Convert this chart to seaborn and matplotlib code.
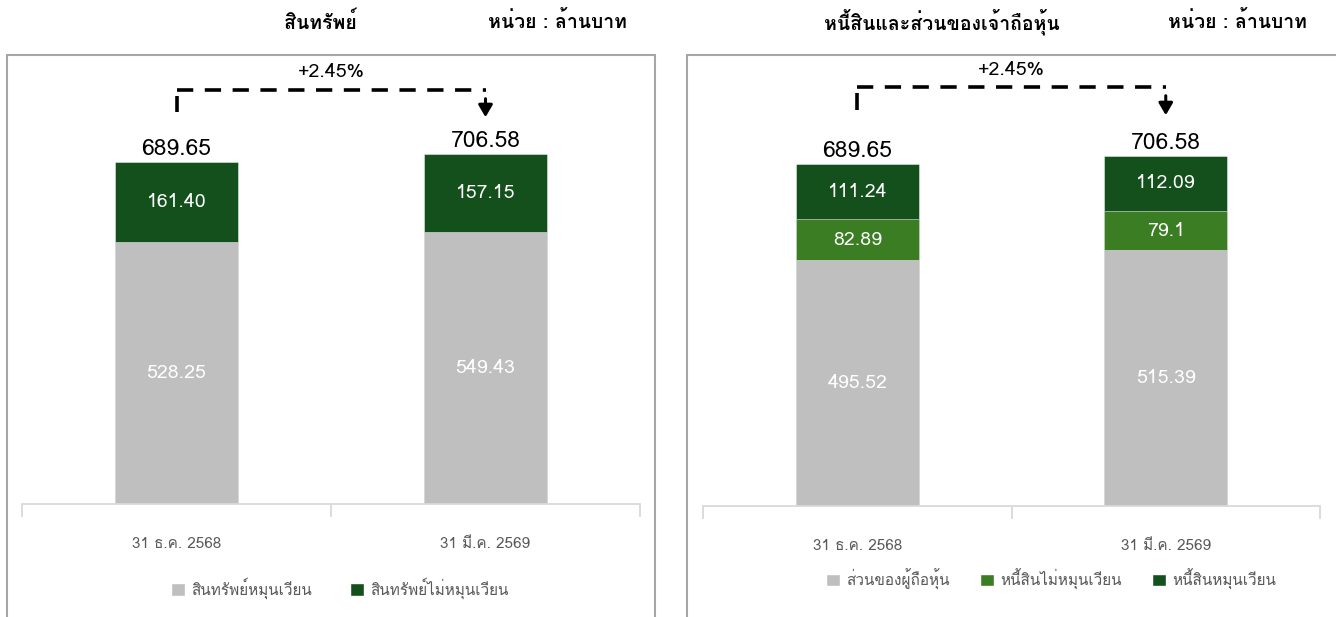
import numpy as np
import pandas as pd
import seaborn as sns
import matplotlib
matplotlib.use("Agg")
import matplotlib.pyplot as plt
from matplotlib import font_manager as fm
from matplotlib.ft2font import FT2Font
from matplotlib.patches import Rectangle, Patch

# ---------------- data ----------------
categories = ["31 ธ.ค. 2568", "31 มี.ค. 2569"]

asset_title = "สินทรัพย์"
liab_title = "หนี้สินและส่วนของเจ้าถือหุ้น"
unit_text = "หน่วย : ล้านบาท"
change_text = "+2.45%"

current_assets = [528.25, 549.43]
noncurrent_assets = [161.40, 157.15]
asset_totals = [689.65, 706.58]
asset_labels = ["สินทรัพย์หมุนเวียน", "สินทรัพย์ไม่หมุนเวียน"]

equity = [495.52, 515.39]
noncurrent_liab = [82.89, 79.10]
current_liab = [111.24, 112.09]
liab_totals = [689.65, 706.58]
liab_labels = ["ส่วนของผู้ถือหุ้น", "หนี้สินไม่หมุนเวียน", "หนี้สินหมุนเวียน"]
equity_fmt = ["495.52", "515.39"]
ncl_fmt = ["82.89", "79.1"]
cl_fmt = ["111.24", "112.09"]

# ---------------- style ----------------
GRAY = "#bfbfbf"
DARK = "#14501c"
MID = "#3a7d23"
TXT = "#595959"

sns.set_theme(style="white")

thai_family = None
for f in fm.fontManager.ttflist:
    try:
        cmap = FT2Font(f.fname).get_charmap()
        if 0x0E2A in cmap and 0x0E49 in cmap and 0x0E1E in cmap:
            thai_family = f.name
            break
    except Exception:
        pass
fams = ([thai_family] if thai_family else []) + ["DejaVu Sans"]
plt.rcParams["font.family"] = fams

W, H = 1336, 617
fig = plt.figure(figsize=(W / 100, H / 100), dpi=100)


def fx(px):
    return px / W


def fy(py):
    return (H - py) / H


# frames
fig.patches.append(Rectangle((fx(7), -0.02), fx(648), fy(55) + 0.02, transform=fig.transFigure,
                             fill=False, edgecolor="#a6a6a6", linewidth=1.5, zorder=0))
fig.patches.append(Rectangle((fx(687), -0.02), fx(660), fy(55) + 0.02, transform=fig.transFigure,
                             fill=False, edgecolor="#a6a6a6", linewidth=1.5, zorder=0))

# titles
fig.text(fx(320), fy(22), asset_title, ha="center", va="center", fontsize=14, fontweight="bold", color="black")
fig.text(fx(557), fy(22), unit_text, ha="center", va="center", fontsize=14, fontweight="bold", color="black")
fig.text(fx(942), fy(22), liab_title, ha="center", va="center", fontsize=14, fontweight="bold", color="black")
fig.text(fx(1237), fy(22), unit_text, ha="center", va="center", fontsize=14, fontweight="bold", color="black")


def setup_axes(ax, ymax):
    ax.set_xlim(-0.5, 1.5)
    ax.set_ylim(0, ymax)
    ax.set_yticks([])
    ax.set_ylabel("")
    ax.set_xlabel("")
    for s in ["top", "left", "right"]:
        ax.spines[s].set_visible(False)
    ax.spines["bottom"].set_color("#d9d9d9")
    ax.spines["bottom"].set_linewidth(1.3)
    ax.set_xticks([0, 1])
    ax.set_xticklabels(categories, color=TXT, fontsize=11)
    ax.set_xticks([-0.5, 0.5, 1.5], minor=True)
    ax.tick_params(axis="x", which="major", length=0, pad=24)
    ax.tick_params(axis="x", which="minor", length=9, width=1.3, color="#d9d9d9", direction="out", bottom=True)
    ax.patch.set_alpha(0)


def connector(ax, totals, y_left_bottom, y_line, y_arrow_tip, y_text):
    ax.plot([0, 0], [y_left_bottom, y_line - 12], color="black", lw=2.6, solid_capstyle="butt")
    ax.plot([0, 1], [y_line, y_line], color="black", lw=2.6, dashes=(4.5, 3.2))
    ax.annotate("", xy=(1, y_arrow_tip), xytext=(1, y_line - 12),
                arrowprops=dict(arrowstyle="-|>,head_width=0.35,head_length=0.6", color="black", lw=2.2))
    ax.text(0.5, y_text, change_text, ha="center", va="center", fontsize=14, fontweight="medium", color="black")
    for i, t in enumerate(totals):
        ax.text(i, t + 4, f"{t:.2f}", ha="center", va="bottom", fontsize=16.5, color="black")


bar_kw = dict(saturation=1, width=0.4, edgecolor="#e8e8e8", linewidth=0.4)

# ---------------- left: assets ----------------
axL = fig.add_axes([fx(22), fy(504), fx(640) - fx(22), fy(60) - fy(504)])
df_a = pd.DataFrame({"cat": categories,
                     "cur": current_assets,
                     "tot": np.array(current_assets) + np.array(noncurrent_assets)})
sns.barplot(data=df_a, x="cat", y="tot", color=DARK, ax=axL, **bar_kw)
sns.barplot(data=df_a, x="cat", y="cur", color=GRAY, ax=axL, **bar_kw)
ymaxL = (504 - 60) / (342 / 689.65)
setup_axes(axL, ymaxL)
for i in range(2):
    axL.text(i, current_assets[i] / 2, f"{current_assets[i]:.2f}", ha="center", va="center",
             fontsize=14, color="white")
    axL.text(i, current_assets[i] + noncurrent_assets[i] / 2, f"{noncurrent_assets[i]:.2f}",
             ha="center", va="center", fontsize=14, color="white")
pxu = 342 / 689.65
connector(axL, asset_totals, (504 - 112) / pxu, (504 - 90) / pxu, (504 - 120) / pxu, (504 - 72) / pxu)
hL = [Patch(facecolor=GRAY), Patch(facecolor=DARK)]
axL.legend(hL, asset_labels, loc="center", bbox_to_anchor=((340 - 22) / 618, (504 - 588) / 444),
           ncol=2, frameon=False, handlelength=0.9, handleheight=0.9, handletextpad=0.4,
           columnspacing=2.5, labelcolor=TXT, fontsize=11)

# ---------------- right: liabilities & equity ----------------
axR = fig.add_axes([fx(703), fy(506), fx(1320) - fx(703), fy(60) - fy(506)])
e = np.array(equity)
n = np.array(noncurrent_liab)
c = np.array(current_liab)
df_l = pd.DataFrame({"cat": categories, "e": e, "en": e + n, "enc": e + n + c})
sns.barplot(data=df_l, x="cat", y="enc", color=DARK, ax=axR, **bar_kw)
sns.barplot(data=df_l, x="cat", y="en", color=MID, ax=axR, **bar_kw)
sns.barplot(data=df_l, x="cat", y="e", color=GRAY, ax=axR, **bar_kw)
pxuR = 342 / 689.65
ymaxR = (506 - 60) / pxuR
setup_axes(axR, ymaxR)
for i in range(2):
    axR.text(i, e[i] / 2, equity_fmt[i], ha="center", va="center", fontsize=14, color="white")
    axR.text(i, e[i] + n[i] / 2, ncl_fmt[i], ha="center", va="center", fontsize=14, color="white")
    axR.text(i, e[i] + n[i] + c[i] / 2, cl_fmt[i], ha="center", va="center", fontsize=14, color="white")
connector(axR, liab_totals, (506 - 110) / pxuR, (506 - 87) / pxuR, (506 - 118) / pxuR, (506 - 70) / pxuR)
hR = [Patch(facecolor=GRAY), Patch(facecolor=MID), Patch(facecolor=DARK)]
axR.legend(hR, liab_labels, loc="center", bbox_to_anchor=((1051 - 703) / 617, (506 - 579) / 446),
           ncol=3, frameon=False, handlelength=0.9, handleheight=0.9, handletextpad=0.4,
           columnspacing=2.0, labelcolor=TXT, fontsize=11)

fig.savefig("out.png", dpi=100)
